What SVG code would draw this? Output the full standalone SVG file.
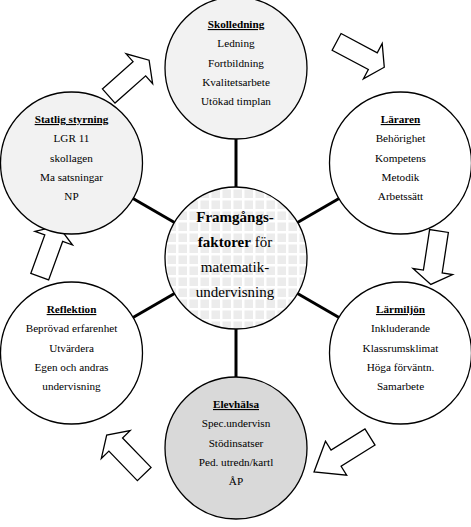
<svg xmlns="http://www.w3.org/2000/svg" width="471" height="527" viewBox="0 0 471 527">
<style>
.c{stroke:#000;stroke-width:1.3}
.t{font-family:"Liberation Serif","Times New Roman",serif;font-size:11.2px;fill:#000;text-anchor:middle}
.h{font-weight:bold;text-decoration:underline}
.ct{font-family:"Liberation Serif","Times New Roman",serif;font-size:15px;fill:#000;text-anchor:middle}
.b{font-weight:bold}
.spoke{stroke:#000;stroke-width:3;fill:none}
.arr{fill:#fff;stroke:#000;stroke-width:1.3;stroke-linejoin:miter}
</style>
<defs>
<pattern id="grid" patternUnits="userSpaceOnUse" width="11" height="11">
<rect width="11" height="11" fill="#ececec"/>
<rect width="11" height="2.5" fill="#fff"/>
<rect width="2.5" height="11" fill="#fff"/>
</pattern>
<polygon id="arrow" points="0,-9.5 41,-9.5 41,-20 54,0 41,20 41,9.5 0,9.5"/>
<polygon id="arrowLong" points="0,-9.5 40,-9.5 40,-20 66,0 40,20 40,9.5 0,9.5"/>
</defs>
<rect width="471" height="527" fill="#fff"/>
<g id="connectors">
<line class="spoke" x1="236" y1="187" x2="236" y2="139"/>
<line class="spoke" x1="297.5" y1="222.5" x2="339" y2="198.5"/>
<line class="spoke" x1="297.5" y1="293.5" x2="339" y2="317.5"/>
<line class="spoke" x1="236" y1="329" x2="236" y2="377"/>
<line class="spoke" x1="174.5" y1="293.5" x2="133" y2="317.5"/>
<line class="spoke" x1="174.5" y1="222.5" x2="133" y2="198.5"/>
</g>
<g id="arrows">
<use href="#arrow" class="arr" transform="translate(108.7,96) rotate(-41.6)"/>
<use href="#arrow" class="arr" transform="translate(336.6,41.9) rotate(28)"/>
<use href="#arrow" class="arr" transform="translate(439,231) rotate(98.7)"/>
<use href="#arrowLong" class="arr" transform="translate(370,437) rotate(148)"/>
<use href="#arrow" class="arr" transform="translate(144.2,474) rotate(226)"/>
<use href="#arrow" class="arr" transform="translate(39.7,276.7) rotate(290)"/>
</g>
<g id="center">
<circle class="c" cx="236" cy="258" r="71" fill="url(#grid)"/>
<text class="ct b" x="235" y="221.5">Framgångs-</text>
<text class="ct" x="235" y="246.5"><tspan class="b">faktorer</tspan> för</text>
<text class="ct" x="235" y="271.5">matematik-</text>
<text class="ct" x="235" y="296.5">undervisning</text>
</g>
<g id="skolledning">
<circle class="c" cx="236" cy="68" r="71" fill="#f2f2f2"/>
<text class="t h" x="236" y="28">Skolledning</text>
<text class="t" x="236" y="47">Ledning</text>
<text class="t" x="236" y="66.5">Fortbildning</text>
<text class="t" x="236" y="86">Kvalitetsarbete</text>
<text class="t" x="236" y="105">Utökad timplan</text>
</g>
<g id="lararen">
<circle class="c" cx="400.5" cy="163" r="71" fill="#fff"/>
<text class="t h" x="400.5" y="123">Läraren</text>
<text class="t" x="400.5" y="142">Behörighet</text>
<text class="t" x="400.5" y="161.5">Kompetens</text>
<text class="t" x="400.5" y="181">Metodik</text>
<text class="t" x="400.5" y="200">Arbetssätt</text>
</g>
<g id="larmiljon">
<circle class="c" cx="400.5" cy="353" r="71" fill="#fff"/>
<text class="t h" x="400.5" y="313">Lärmiljön</text>
<text class="t" x="400.5" y="332">Inkluderande</text>
<text class="t" x="400.5" y="351.5">Klassrumsklimat</text>
<text class="t" x="400.5" y="371">Höga förväntn.</text>
<text class="t" x="400.5" y="390">Samarbete</text>
</g>
<g id="elevhalsa">
<circle class="c" cx="236" cy="448" r="71" fill="#d9d9d9"/>
<text class="t h" x="236" y="408">Elevhälsa</text>
<text class="t" x="236" y="427">Spec.undervisn</text>
<text class="t" x="236" y="446.5">Stödinsatser</text>
<text class="t" x="236" y="466">Ped. utredn/kartl</text>
<text class="t" x="236" y="485">ÅP</text>
</g>
<g id="reflektion">
<circle class="c" cx="71.5" cy="353" r="71" fill="#fff"/>
<text class="t h" x="71.5" y="313">Reflektion</text>
<text class="t" x="71.5" y="332">Beprövad erfarenhet</text>
<text class="t" x="71.5" y="351.5">Utvärdera</text>
<text class="t" x="71.5" y="371">Egen och andras</text>
<text class="t" x="71.5" y="390">undervisning</text>
</g>
<g id="statlig">
<circle class="c" cx="71.5" cy="163" r="71" fill="#f2f2f2"/>
<text class="t h" x="71.5" y="123">Statlig styrning</text>
<text class="t" x="71.5" y="142">LGR 11</text>
<text class="t" x="71.5" y="161.5">skollagen</text>
<text class="t" x="71.5" y="181">Ma satsningar</text>
<text class="t" x="71.5" y="200">NP</text>
</g>
</svg>
